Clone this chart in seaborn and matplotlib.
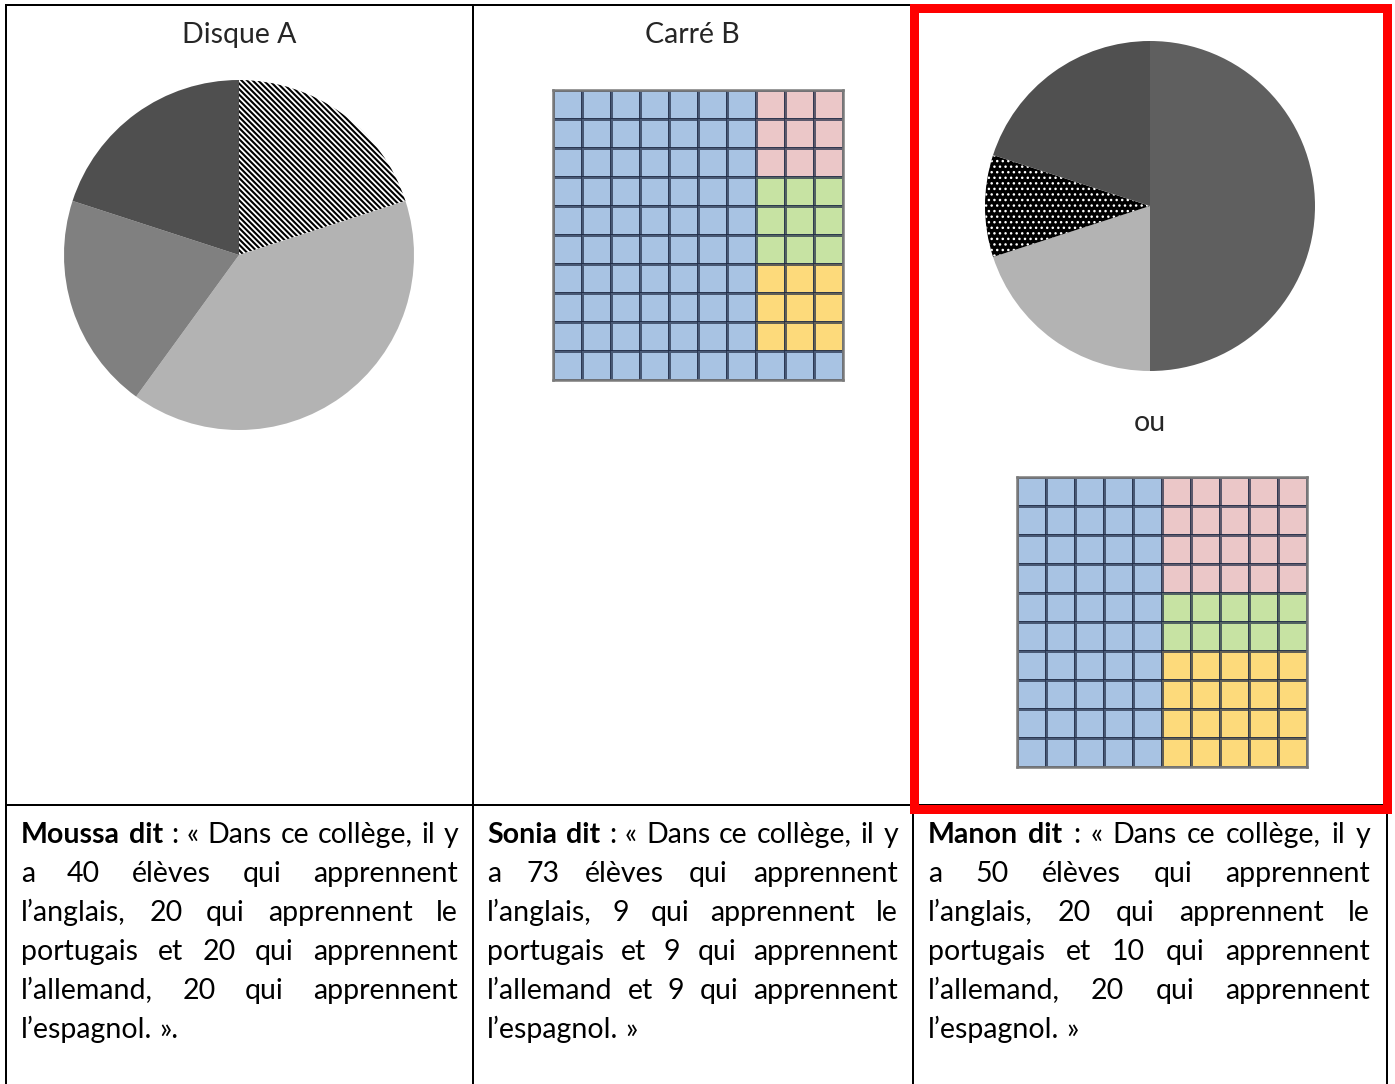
import matplotlib
matplotlib.use('Agg')
import numpy as np
import matplotlib.pyplot as plt
import seaborn as sns
from matplotlib.colors import ListedColormap
from matplotlib.patches import Rectangle

sns.set_style('white')
FONTE = 'Lato'
plt.rcParams['font.family'] = [FONTE, 'DejaVu Sans']

W, H = 1395, 1084

# Disque A (Moussa) : sens horaire depuis midi
disqueA_valeurs = [20, 40, 20, 20]
disqueA_couleurs = ['white', '#b3b3b3', '#808080', '#4f4f4f']
disqueA_hachures = ['\\' * 6, None, None, None]

# Disque de Manon
disqueC_valeurs = [50, 20, 10, 20]
disqueC_couleurs = ['#5f5f5f', '#b3b3b3', 'black', '#505050']
disqueC_hachures = [None, None, '...', None]

# Carrés 10x10 : A = anglais, P = portugais, L = allemand, E = espagnol
carreB = ['AAAAAAAPPP'] * 3 + ['AAAAAAALLL'] * 3 + ['AAAAAAAEEE'] * 3 + ['AAAAAAAAAA']
carreC = ['AAAAAPPPPP'] * 4 + ['AAAAALLLLL'] * 2 + ['AAAAAEEEEE'] * 4
langues = ['A', 'P', 'L', 'E']
couleurs_langues = ['#a8c3e3', '#ebc7c8', '#c7e3a3', '#fdda7b']

# Ce que disent les élèves
prenoms = ['Moussa', 'Sonia', 'Manon']
effectifs = {'Moussa': [40, 20, 20, 20], 'Sonia': [73, 9, 9, 9], 'Manon': [50, 20, 10, 20]}


def lignes_texte(nom):
    a, p, l, e = effectifs[nom]
    if nom == 'Sonia':
        return [f"{nom} dit : « Dans ce collège, il y",
                f"a {a} élèves qui apprennent",
                f"l’anglais, {p} qui apprennent le",
                f"portugais et {l} qui apprennent",
                f"l’allemand et {e} qui apprennent",
                "l’espagnol. »"]
    fin = "l’espagnol. »." if nom == 'Moussa' else "l’espagnol. »"
    return [f"{nom} dit : « Dans ce collège, il y",
            f"a {a} élèves qui apprennent",
            f"l’anglais, {p} qui apprennent le",
            f"portugais et {l} qui apprennent",
            f"l’allemand, {e} qui apprennent",
            fin]


fig = plt.figure(figsize=(W / 100, H / 100), dpi=100)
ax0 = fig.add_axes([0, 0, 1, 1])
ax0.set_xlim(0, W)
ax0.set_ylim(H, 0)
ax0.axis('off')


def axes_px(x, y, w, h):
    return fig.add_axes([x / W, 1 - (y + h) / H, w / W, h / H])


# Tableau
lw_px = 2 * 0.72
for xs, ys in [([6, 1387], [5, 5]), ([6, 1387], [805, 805]), ([6, 6], [5, H]),
               ([473, 473], [5, H]), ([913, 913], [5, H]), ([1387, 1387], [5, H])]:
    ax0.plot(xs, ys, color='black', lw=lw_px, solid_capstyle='projecting', zorder=1)
ax0.add_patch(Rectangle((913.5, 8), 473, 800.5, fill=False, edgecolor='#ff0000',
                        lw=9 * 0.72, joinstyle='miter', zorder=3))


def camembert(cx, cy, r, valeurs, couleurs, hachures, ep_hachure):
    ax = axes_px(cx - r, cy - r, 2 * r, 2 * r)
    with plt.rc_context({'hatch.linewidth': ep_hachure}):
        parts, _ = ax.pie(valeurs, colors=couleurs, startangle=90, counterclock=False,
                          wedgeprops=dict(linewidth=0))
        for part, h in zip(parts, hachures):
            if h:
                part.set_hatch(h)
                part.set_edgecolor('white' if part.get_facecolor()[0] < 0.5 else 'black')
                part.set_linewidth(0)
                if hasattr(part, 'set_hatch_linewidth'):
                    part.set_hatch_linewidth(ep_hachure)
    ax.set_xlim(-1, 1)
    ax.set_ylim(-1, 1)
    ax.axis('off')


def carre(x, y, taille, grille):
    ax = axes_px(x, y, taille, taille)
    mat = np.array([[langues.index(c) for c in ligne] for ligne in grille])
    sns.heatmap(mat, cmap=ListedColormap(couleurs_langues), vmin=-0.5, vmax=3.5, cbar=False,
                linewidths=2.0, linecolor=(0.12, 0.17, 0.27, 0.7),
                xticklabels=False, yticklabels=False, ax=ax)
    for sp in ax.spines.values():
        sp.set_visible(True)
        sp.set_color('#7a7a7a')
        sp.set_linewidth(1.8)


camembert(239, 255, 175, disqueA_valeurs, disqueA_couleurs, disqueA_hachures, 1.5)
camembert(1150, 206, 165, disqueC_valeurs, disqueC_couleurs, disqueC_hachures, 1.0)
carre(553, 90, 290, carreB)
carre(1017, 477, 290, carreC)

# Textes
renderer = fig.canvas.get_renderer()


def largeur(s, fs, gras=False):
    t = ax0.text(0, 0, s, fontsize=fs, fontweight='bold' if gras else 'normal')
    w = t.get_window_extent(renderer).width
    t.remove()
    return w


colonnes = [(21, 458), (487, 898), (928, 1370)]
fs_base = 20.5
fs = fs_base
for nom, (x0, x1) in zip(prenoms, colonnes):
    for ligne in lignes_texte(nom)[:-1]:
        mots = ligne.split(' ')
        w = sum(largeur(m, fs_base, gras=(ligne.startswith(nom) and k < 2))
                for k, m in enumerate(mots))
        w += (len(mots) - 1) * (largeur('a a', fs_base) - largeur('aa', fs_base))
        fs = min(fs, fs_base * (x1 - x0) / w * 0.99)

espace = largeur('a a', fs) - largeur('aa', fs)
for nom, (x0, x1) in zip(prenoms, colonnes):
    lignes = lignes_texte(nom)
    for i, ligne in enumerate(lignes):
        mots = ligne.split(' ')
        gras = [(i == 0 and k < 2) for k in range(len(mots))]
        ws = [largeur(m, fs, g) for m, g in zip(mots, gras)]
        if i < len(lignes) - 1:
            gap = (x1 - x0 - sum(ws)) / (len(mots) - 1)
        else:
            gap = espace
        x = x0
        yb = 843 + 39 * i
        for m, g, w in zip(mots, gras, ws):
            ax0.text(x, yb, m, fontsize=fs, fontweight='bold' if g else 'normal',
                     ha='left', va='baseline', color='black')
            x += w + gap

ax0.text(239, 43, 'Disque A', fontsize=fs, ha='center', va='baseline')
ax0.text(692, 43, 'Carré B', fontsize=fs, ha='center', va='baseline')
ax0.text(1150, 431, 'ou', fontsize=fs, ha='center', va='baseline')

fig.savefig('out.png', dpi=100)
